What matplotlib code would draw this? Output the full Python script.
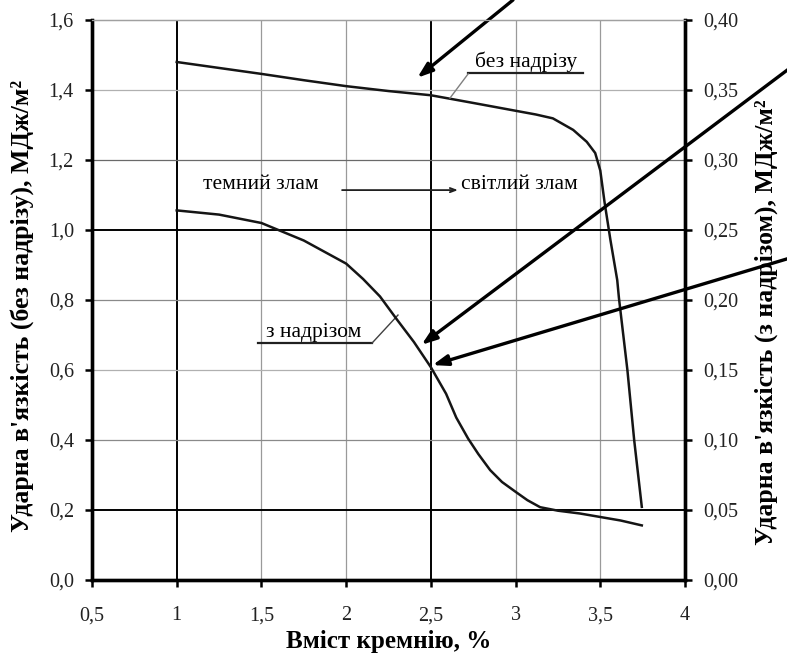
import matplotlib
matplotlib.use("Agg")
import matplotlib.pyplot as plt
from matplotlib.ticker import FixedLocator, FixedFormatter

plt.rcParams['font.family'] = ['Liberation Serif', 'DejaVu Serif']

# ---- data ----
x_unnotched = [1.0, 1.25, 1.5, 1.75, 2.0, 2.25, 2.5, 2.75, 3.03, 3.12, 3.22,
               3.34, 3.42, 3.47, 3.50, 3.525, 3.56, 3.60, 3.61, 3.66, 3.70, 3.745]
y_unnotched = [1.48, 1.463, 1.446, 1.428, 1.411, 1.397, 1.385, 1.363, 1.338, 1.330, 1.319,
               1.286, 1.252, 1.220, 1.170, 1.080, 0.971, 0.857, 0.806, 0.60, 0.40, 0.209]

x_notched = [1.0, 1.25, 1.5, 1.75, 2.0, 2.1, 2.2, 2.3, 2.4, 2.5, 2.59, 2.65, 2.72,
             2.78, 2.85, 2.92, 3.0, 3.07, 3.145, 3.25, 3.38, 3.5, 3.62, 3.745]
y_notched = [0.264, 0.261, 0.255, 0.2425, 0.226, 0.215, 0.2025, 0.186, 0.170, 0.152,
             0.133, 0.116, 0.101, 0.090, 0.0785, 0.070, 0.063, 0.057, 0.052, 0.0495,
             0.0475, 0.045, 0.0425, 0.039]

x_ticks = [0.5, 1, 1.5, 2, 2.5, 3, 3.5, 4]
x_ticklabels = ['0,5', '1', '1,5', '2', '2,5', '3', '3,5', '4']
y_ticks = [0.0, 0.2, 0.4, 0.6, 0.8, 1.0, 1.2, 1.4, 1.6]
y_ticklabels = ['0,0', '0,2', '0,4', '0,6', '0,8', '1,0', '1,2', '1,4', '1,6']
y2_ticks = [0.0, 0.05, 0.10, 0.15, 0.20, 0.25, 0.30, 0.35, 0.40]
y2_ticklabels = ['0,00', '0,05', '0,10', '0,15', '0,20', '0,25', '0,30', '0,35', '0,40']

xlabel = 'Вміст кремнію, %'
ylabel_left = "Ударна в'язкість (без надрізу), МДж/м²"
ylabel_right = "Ударна в'язкість (з надрізом), МДж/м²"

# ---- figure ----
W, H = 787, 668
fig = plt.figure(figsize=(W / 100, H / 100), dpi=100)
ax = fig.add_axes([92 / W, 88 / H, (685 - 92) / W, (580 - 20) / H])
ax2 = ax.twinx()

ax.set_xlim(0.5, 4)
ax.set_ylim(0, 1.6)
ax2.set_ylim(0, 0.4)

# grid
for xv in [1.5, 2, 3, 3.5]:
    ax.axvline(xv, color='#9a9a9a', lw=0.9, zorder=0)
for xv in [1, 2.5]:
    ax.axvline(xv, color='black', lw=1.4, zorder=0)
for yv, c in [(0.4, '#8a8a8a'), (0.6, '#b0b0b0'), (0.8, '#8a8a8a'), (1.2, '#6a6a6a'), (1.4, '#b0b0b0')]:
    ax.axhline(yv, color=c, lw=0.9, zorder=0)
for yv in [0.2, 1.0]:
    ax.axhline(yv, color='black', lw=1.4, zorder=0)

# curves
ax.plot(x_unnotched, y_unnotched, color='#151515', lw=1.8, zorder=3,
        solid_joinstyle='round')
ax2.plot(x_notched, y_notched, color='#151515', lw=1.8, zorder=3,
         solid_joinstyle='round')

# spines
for a in (ax, ax2):
    a.spines['top'].set_color('#a0a0a0')
    a.spines['top'].set_linewidth(0.9)
    for s in ('left', 'bottom', 'right'):
        a.spines[s].set_linewidth(2.4)
        a.spines[s].set_color('black')

ax.xaxis.set_major_locator(FixedLocator(x_ticks))
ax.xaxis.set_major_formatter(FixedFormatter(x_ticklabels))
ax.yaxis.set_major_locator(FixedLocator(y_ticks))
ax.yaxis.set_major_formatter(FixedFormatter(y_ticklabels))
ax2.yaxis.set_major_locator(FixedLocator(y2_ticks))
ax2.yaxis.set_major_formatter(FixedFormatter(y2_ticklabels))

ax.tick_params(axis='both', direction='out', length=5, width=1.8, labelsize=14.5,
               pad=8, colors='black', labelcolor='#222222')
ax.tick_params(axis='x', pad=14)
ax2.tick_params(axis='y', direction='out', length=5, width=1.8, labelsize=14.5,
                pad=8, labelcolor='#222222')

ax.set_xlabel(xlabel, fontsize=18, fontweight='bold')
ax.xaxis.set_label_coords(0.5, -0.09)
ax.set_ylabel(ylabel_left, fontsize=18.5, fontweight='bold')
ax.yaxis.set_label_coords(-0.098, 0.49)
ax2.set_ylabel(ylabel_right, fontsize=18.5, fontweight='bold')
ax2.yaxis.set_label_coords(1.117, 0.46)

# annotations (inside)
tfs = 15.5
ax.text(3.06, 1.48, 'без надрізу', fontsize=tfs, ha='center', va='center', zorder=5)
ax.plot([2.72, 3.40], [1.449, 1.449], color='#202020', lw=1.6, zorder=5)
ax.plot([2.72, 2.613], [1.446, 1.377], color='#808080', lw=1.0, zorder=5)

ax.text(1.498, 1.13, 'темний злам', fontsize=tfs, ha='center', va='center', zorder=5)
ax.annotate('', xy=(2.66, 1.114), xytext=(1.976, 1.114),
            arrowprops=dict(arrowstyle='->,head_length=0.4,head_width=0.15', lw=1.3,
                            color='#202020', shrinkA=0, shrinkB=0), zorder=5)
ax.text(2.68, 1.13, 'світлий злам', fontsize=tfs, ha='left', va='center', zorder=5)

ax.text(1.81, 0.708, 'з надрізом', fontsize=tfs, ha='center', va='center', zorder=5)
ax.plot([1.48, 2.153], [0.677, 0.677], color='#202020', lw=1.6, zorder=5)
ax.plot([2.153, 2.306], [0.677, 0.757], color='#404040', lw=1.0, zorder=5)

# big arrows from outside
ap = dict(arrowstyle='-|>,head_length=0.9,head_width=0.32', lw=2.4, color='black',
          shrinkA=0, shrinkB=0)
ax.annotate('', xy=(2.42, 1.435), xycoords='data',
            xytext=(513, H - 0), textcoords='figure pixels',
            arrowprops=ap, annotation_clip=False, zorder=6)
ax.annotate('', xy=(2.445, 0.672), xycoords='data',
            xytext=(790, H - 68), textcoords='figure pixels',
            arrowprops=ap, annotation_clip=False, zorder=6)
ax.annotate('', xy=(2.51, 0.614), xycoords='data',
            xytext=(790, H - 258), textcoords='figure pixels',
            arrowprops=ap, annotation_clip=False, zorder=6)

fig.savefig('out.png', dpi=100)
